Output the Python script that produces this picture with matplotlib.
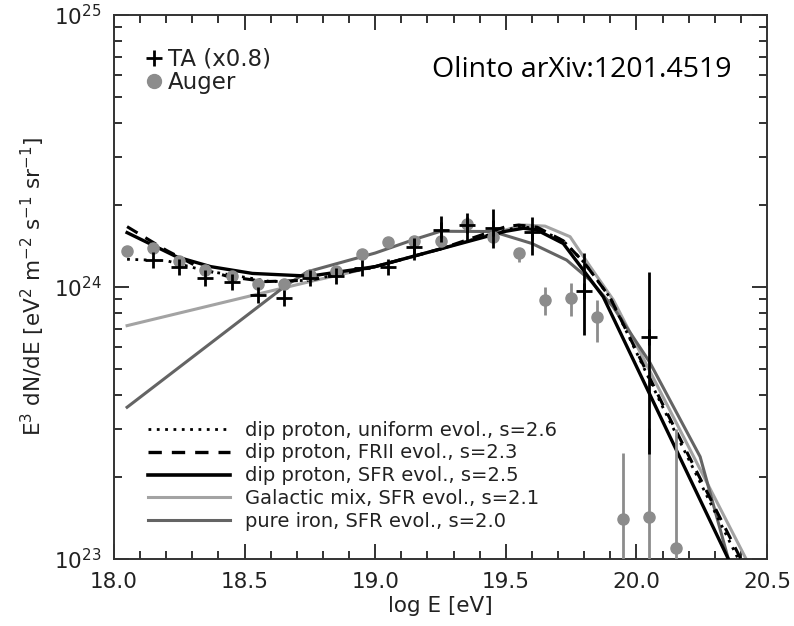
import numpy as np
import matplotlib.pyplot as plt
from matplotlib.lines import Line2D
from matplotlib.ticker import MultipleLocator, LogLocator

# TA data (x0.8), log10 of E^3 dN/dE
ta_logE = [18.15, 18.25, 18.35, 18.45, 18.55, 18.65, 18.75, 18.85, 18.95, 19.05,
           19.15, 19.25, 19.35, 19.45, 19.60, 19.80, 20.05]
ta_logy = [24.099, 24.075, 24.032, 24.020, 23.971, 23.961, 24.032, 24.040, 24.069, 24.075,
           24.148, 24.210, 24.228, 24.216, 24.201, 23.986, 23.817]
ta_lo = [24.099, 24.075, 24.032, 24.020, 23.971, 23.961, 24.032, 24.040, 24.069, 24.075,
         24.100, 24.166, 24.166, 24.142, 24.118, 23.824, 23.386]
ta_hi = [24.099, 24.075, 24.032, 24.020, 23.971, 23.961, 24.032, 24.040, 24.069, 24.075,
         24.180, 24.261, 24.271, 24.286, 24.256, 24.124, 24.056]

# Auger data
au_logE = [18.05, 18.15, 18.25, 18.35, 18.45, 18.55, 18.65, 18.75, 18.85, 18.95, 19.05,
           19.15, 19.25, 19.35, 19.45, 19.55, 19.65, 19.75, 19.85, 19.95, 20.05, 20.15]
au_logy = [24.134, 24.142, 24.096, 24.062, 24.040, 24.011, 24.010, 24.044, 24.059, 24.120, 24.167,
           24.169, 24.169, 24.230, 24.185, 24.124, 23.952, 23.961, 23.891, 23.147, 23.156, 23.039]
au_lo = [24.134, 24.142, 24.096, 24.062, 24.040, 24.011, 24.010, 24.044, 24.059, 24.120, 24.167,
         24.169, 24.169, 24.230, 24.185, 24.093, 23.897, 23.893, 23.799, 22.500, 22.500, 22.500]
au_hi = [24.134, 24.142, 24.096, 24.062, 24.040, 24.011, 24.010, 24.044, 24.059, 24.120, 24.167,
         24.169, 24.169, 24.230, 24.185, 24.143, 24.000, 24.016, 23.952, 23.391, 23.483, 23.478]

# model curves
uni_logE = [18.05, 18.20, 18.35, 18.45, 18.60, 18.75, 19.00, 19.25, 19.50, 19.56, 19.62,
            19.72, 19.80, 19.90, 20.10, 20.39]
uni_logy = [24.102, 24.097, 24.060, 24.044, 24.020, 24.025, 24.075, 24.140, 24.210, 24.222, 24.215,
            24.170, 24.090, 23.960, 23.560, 23.000]

frii_logE = [18.05, 18.20, 18.34, 18.44, 18.58, 18.75, 19.00, 19.25, 19.50, 19.55, 19.62,
             19.72, 19.80, 19.90, 20.10, 20.40]
frii_logy = [24.222, 24.135, 24.065, 24.038, 24.020, 24.025, 24.075, 24.140, 24.222, 24.228, 24.220,
             24.170, 24.090, 23.960, 23.570, 23.000]

sfr_logE = [18.05, 18.24, 18.37, 18.53, 18.66, 18.75, 19.00, 19.25, 19.50, 19.567, 19.618,
            19.72, 19.797, 19.873, 20.352]
sfr_logy = [24.200, 24.111, 24.075, 24.050, 24.044, 24.040, 24.075, 24.140, 24.205, 24.216, 24.210,
            24.160, 24.062, 23.964, 23.000]

gal_logE = [18.05, 18.62, 18.75, 19.00, 19.25, 19.50, 19.567, 19.65, 19.746, 19.823, 19.912, 20.42]
gal_logy = [23.858, 23.990, 24.020, 24.075, 24.140, 24.210, 24.228, 24.224, 24.185, 24.075, 23.952, 23.000]

fe_logE = [18.05, 18.66, 18.74, 19.00, 19.15, 19.25, 19.45, 19.60, 19.733, 19.822, 19.91,
           20.05, 20.244, 20.352]
fe_logy = [23.558, 24.007, 24.056, 24.125, 24.175, 24.205, 24.204, 24.160, 24.099, 24.026, 23.928,
           23.725, 23.376, 23.000]

model_labels = ['dip proton, uniform evol., s=2.6',
                'dip proton, FRII evol., s=2.3',
                'dip proton, SFR evol., s=2.5',
                'Galactic mix, SFR evol., s=2.1',
                'pure iron, SFR evol., s=2.0']

light_gray = '#a3a3a3'
dark_gray = '#646464'
txt = '#222222'

plt.rcParams['font.family'] = 'DejaVu Sans'
fig = plt.figure(figsize=(7.94, 6.26), dpi=100)
ax = fig.add_axes([0.1436, 0.107, 0.8224, 0.869])

p = lambda v: 10 ** np.asarray(v)

ax.plot(gal_logE, p(gal_logy), color=light_gray, lw=2.2, zorder=2)
ax.plot(fe_logE, p(fe_logy), color=dark_gray, lw=2.2, zorder=2)
ax.plot(uni_logE, p(uni_logy), color='black', lw=2.0, ls=(0, (1, 2.0)), zorder=3)
ax.plot(frii_logE, p(frii_logy), color='black', lw=2.2, ls=(0, (4, 3)), zorder=3)
ax.plot(sfr_logE, p(sfr_logy), color='black', lw=2.4, zorder=3)

# Auger
au_y = p(au_logy)
ax.errorbar(au_logE, au_y, yerr=[au_y - p(au_lo), p(au_hi) - au_y], fmt='o',
            color='#8c8c8c', ms=8, elinewidth=2, capsize=0, zorder=4)
# TA
ta_y = p(ta_logy)
ax.errorbar(ta_logE, ta_y, yerr=[ta_y - p(ta_lo), p(ta_hi) - ta_y], fmt='+',
            color='black', ms=11, mew=2, elinewidth=2, capsize=0, zorder=5)

ax.set_xlim(18.0, 20.5)
ax.set_yscale('log')
ax.set_ylim(1e23, 1e25)
ax.xaxis.set_major_locator(MultipleLocator(0.5))
ax.xaxis.set_minor_locator(MultipleLocator(0.1))
ax.xaxis.set_major_formatter(plt.FormatStrFormatter('%.1f'))
ax.yaxis.set_minor_locator(LogLocator(subs=np.arange(2, 10)))
ax.yaxis.set_minor_formatter(plt.NullFormatter())
ax.tick_params(which='both', direction='in', top=True, right=True, colors=txt,
               labelsize=15.5, width=1.3)
ax.tick_params(which='major', length=11, pad=9)
ax.tick_params(which='minor', length=6)
for s in ax.spines.values():
    s.set_color('#333333')
    s.set_linewidth(1.4)

ax.set_xlabel('log E [eV]', fontsize=15.5, color=txt, labelpad=3)
ax.set_ylabel(r'E$^3$ dN/dE [eV$^2$ m$^{-2}$ s$^{-1}$ sr$^{-1}$]', fontsize=15.5,
              color=txt, labelpad=5)

# data legend
data_handles = [Line2D([], [], ls='none', marker='+', color='black', ms=12, mew=2),
                Line2D([], [], ls='none', marker='o', color='#8c8c8c', ms=10)]
leg1 = ax.legend(data_handles, ['TA (x0.8)', 'Auger'], loc='upper left', frameon=False,
                 fontsize=16.5, handlelength=0.7, handletextpad=0.25, labelspacing=0.0,
                 bbox_to_anchor=(0.035, 0.957), borderaxespad=0, labelcolor=txt)
ax.add_artist(leg1)

model_handles = [Line2D([], [], color='black', lw=2.0, ls=(0, (1, 2.0))),
                 Line2D([], [], color='black', lw=2.4, ls=(0, (4, 3))),
                 Line2D([], [], color='black', lw=2.6),
                 Line2D([], [], color=light_gray, lw=2.2),
                 Line2D([], [], color=dark_gray, lw=2.2)]
ax.legend(model_handles, model_labels, loc='lower left', frameon=False, fontsize=14,
          handlelength=4.2, handletextpad=0.8, labelspacing=0.2,
          bbox_to_anchor=(0.04, 0.037), borderaxespad=0, labelcolor=txt)

ax.text(0.487, 0.899, 'Olinto arXiv:1201.4519', transform=ax.transAxes, fontsize=20.5,
        family='Open Sans', color='black', va='center')

fig.savefig('out.png', dpi=100)
